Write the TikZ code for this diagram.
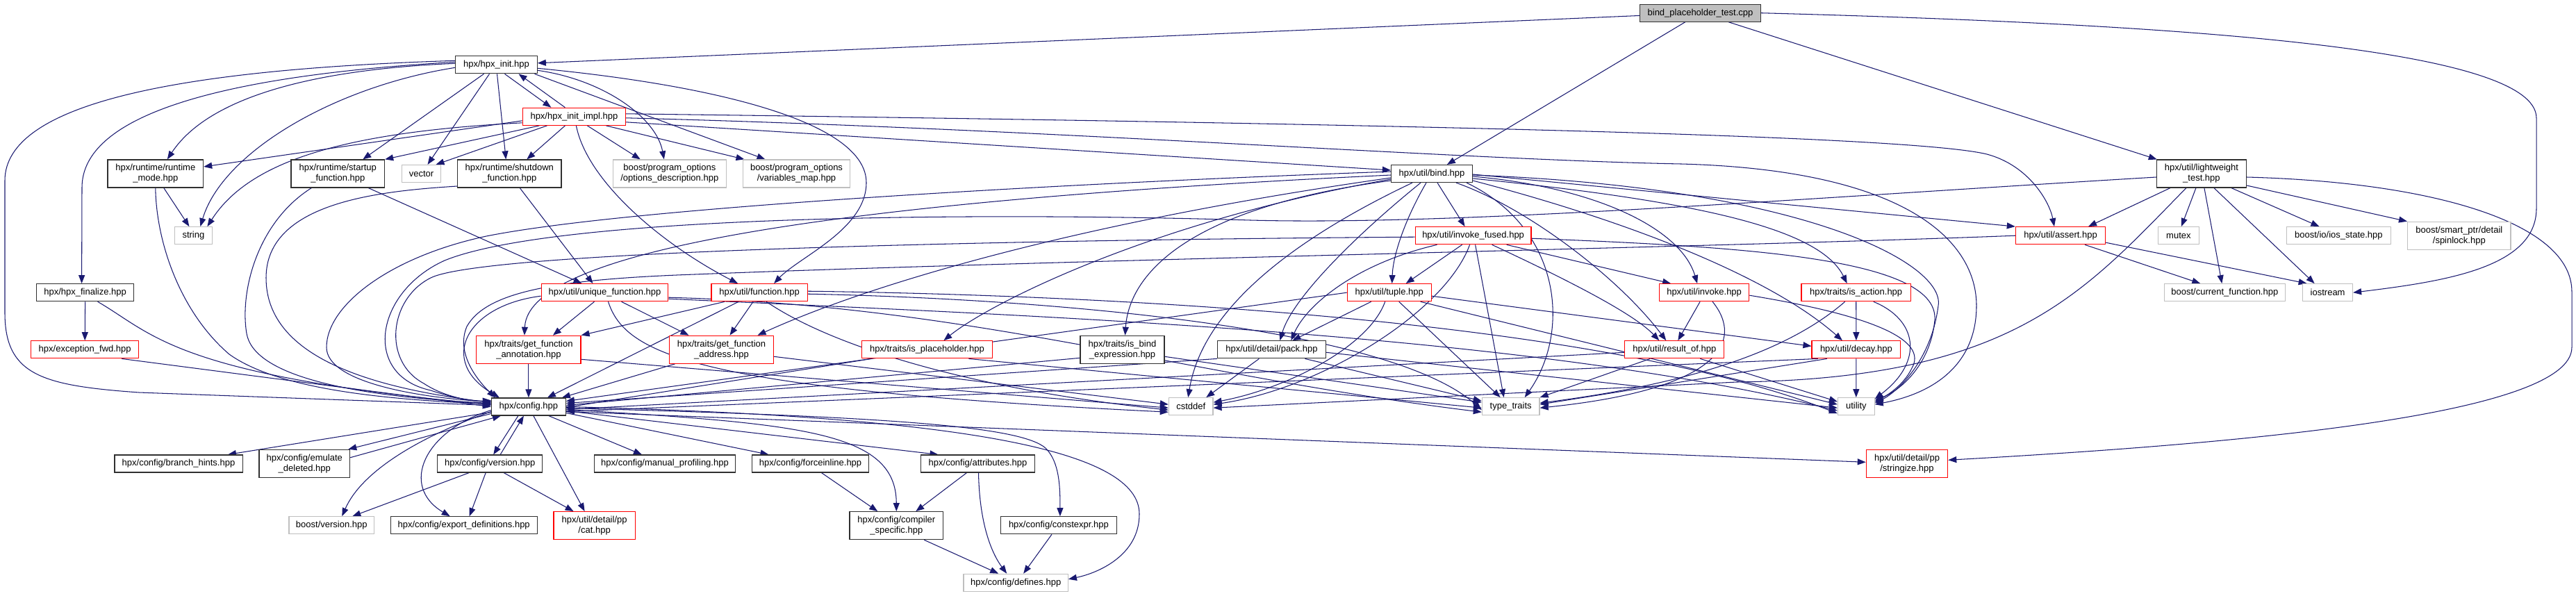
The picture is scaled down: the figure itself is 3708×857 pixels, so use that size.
\documentclass[tikz,border=0pt]{standalone}
\usepackage{fontspec}
\setmainfont{Liberation Sans}
\usetikzlibrary{arrows.meta}
\definecolor{edgeblue}{HTML}{191970}
\definecolor{boxgray}{HTML}{BFBFBF}
\definecolor{boxred}{HTML}{FF0000}
\definecolor{boxblack}{HTML}{303030}
\pgfdeclarelayer{bgl}
\pgfdeclarelayer{edges}
\pgfsetlayers{bgl,edges,main}
\begin{document}
\begin{tikzpicture}[x=1pt,y=-1pt,font=\fontsize{13}{15}\selectfont,
  nb/.style={draw=boxblack,line width=1.2pt,fill=white,inner xsep=2pt,inner ysep=0pt,align=center,minimum height=25pt},
  nr/.style={nb,draw=boxred,line width=1.2pt},
  ng/.style={nb,draw=boxgray,line width=1.2pt},
  nroot/.style={nb,fill=boxgray},
  two/.style={minimum height=40pt},
  dep/.style={draw=edgeblue,line width=1.05pt,-{Triangle[length=12pt,width=9pt]}}]
\useasboundingbox (0,0) rectangle (3708,857);
\begin{pgfonlayer}{bgl}
\fill[white] (0,0) rectangle (3708,857);
\end{pgfonlayer}
% ---------------- nodes
\node[nroot,minimum width=173.7pt] (root) at (2447.5,18.7) {bind\_placeholder\_test.cpp};
\node[nb,minimum width=117.5pt] (init) at (714.5,93.3) {hpx/hpx\_init.hpp};
\node[nr,minimum width=148.3pt] (impl) at (826.4,167.8) {hpx/hpx\_init\_impl.hpp};
\node[nb,two,minimum width=137.6pt] (rm) at (223.8,250) {hpx/runtime/runtime\\\_mode.hpp};
\node[ng,minimum width=54.6pt] (strn) at (278.4,339.2) {string};
\node[nb,two,minimum width=134.6pt] (su) at (486.3,250) {hpx/runtime/startup\\\_function.hpp};
\node[ng,minimum width=56pt] (vec) at (606.5,250) {vector};
\node[nb,two,minimum width=149.5pt] (sd) at (733.3,250) {hpx/runtime/shutdown\\\_function.hpp};
\node[ng,two,minimum width=163pt] (od) at (963.8,250) {boost/program\_options\\/options\_description.hpp};
\node[ng,two,minimum width=154.4pt] (vm) at (1146.5,250) {boost/program\_options\\/variables\_map.hpp};
\node[nb,minimum width=117pt] (bind) at (2061,250) {hpx/util/bind.hpp};
\node[nb,two,minimum width=129.1pt] (lw) at (3168.9,250) {hpx/util/lightweight\\\_test.hpp};
\node[nb,minimum width=140pt] (fin) at (122.6,421.2) {hpx/hpx\_finalize.hpp};
\node[nr,minimum width=182.7pt] (ufn) at (870.5,421.2) {hpx/util/unique\_function.hpp};
\node[nr,minimum width=138.4pt] (fn) at (1093.1,421.2) {hpx/util/function.hpp};
\node[nr,minimum width=166.9pt] (ifu) at (2120.6,339.2) {hpx/util/invoke\_fused.hpp};
\node[nr,minimum width=121pt] (tup) at (1999.7,421.2) {hpx/util/tuple.hpp};
\node[nr,minimum width=129.4pt] (inv) at (2453.1,421.2) {hpx/util/invoke.hpp};
\node[nr,minimum width=157.3pt] (ia) at (2671.7,421.2) {hpx/traits/is\_action.hpp};
\node[nr,minimum width=129.3pt] (as) at (2966,339.2) {hpx/util/assert.hpp};
\node[ng,minimum width=58.7pt] (mtx) at (3135.9,339.2) {mutex};
\node[ng,minimum width=150.4pt] (ios) at (3366.4,339.2) {boost/io/ios\_state.hpp};
\node[ng,two,minimum width=148.5pt] (spl) at (3539.8,339.3) {boost/smart\_ptr/detail\\/spinlock.hpp};
\node[ng,minimum width=174.3pt] (cf) at (3202.3,421.2) {boost/current\_function.hpp};
\node[ng,minimum width=71.8pt] (iost) at (3350.6,421.2) {iostream};
\node[nr,minimum width=155pt] (exc) at (122.2,503.3) {hpx/exception\_fwd.hpp};
\node[nr,two,minimum width=150.2pt] (ann) at (760.9,503.3) {hpx/traits/get\_function\\\_annotation.hpp};
\node[nr,two,minimum width=150.2pt] (adr) at (1038.5,503.3) {hpx/traits/get\_function\\\_address.hpp};
\node[nr,minimum width=188.2pt] (iph) at (1334.4,503.3) {hpx/traits/is\_placeholder.hpp};
\node[nb,two,minimum width=121pt] (ibe) at (1615.5,503.3) {hpx/traits/is\_bind\\\_expression.hpp};
\node[nb,minimum width=155.9pt] (pack) at (1830.4,503.3) {hpx/util/detail/pack.hpp};
\node[nr,minimum width=142.9pt] (ro) at (2410.3,503.3) {hpx/util/result\_of.hpp};
\node[nr,minimum width=127.7pt] (dec) at (2671.9,503.3) {hpx/util/decay.hpp};
\node[nb,minimum width=106.8pt] (cfg) at (760.9,585.5) {hpx/config.hpp};
\node[ng,minimum width=63.6pt] (cst) at (1714.2,585.2) {cstddef};
\node[ng,minimum width=82.7pt] (tt) at (2174.7,585.2) {type\_traits};
\node[ng,minimum width=52.6pt] (ut) at (2671.8,585.2) {utility};
\node[nb,minimum width=184.2pt] (bh) at (257,667.5) {hpx/config/branch\_hints.hpp};
\node[nb,two,minimum width=130.8pt] (ed) at (438.3,667.3) {hpx/config/emulate\\\_deleted.hpp};
\node[nb,minimum width=151pt] (ver) at (705.2,667.5) {hpx/config/version.hpp};
\node[nb,minimum width=202.5pt] (mp) at (957,667.5) {hpx/config/manual\_profiling.hpp};
\node[nb,minimum width=168.2pt] (fi) at (1166.5,667.5) {hpx/config/forceinline.hpp};
\node[nb,minimum width=163.7pt] (attr) at (1407.5,667.5) {hpx/config/attributes.hpp};
\node[nr,two,minimum width=117.4pt] (strz) at (2745,667.3) {hpx/util/detail/pp\\/stringize.hpp};
\node[ng,minimum width=122.6pt] (bv) at (477.3,756.3) {boost/version.hpp};
\node[nb,minimum width=210.9pt] (ex) at (667.7,756.3) {hpx/config/export\_definitions.hpp};
\node[nr,two,minimum width=117.4pt] (cat) at (855.6,756.7) {hpx/util/detail/pp\\/cat.hpp};
\node[nb,two,minimum width=134.8pt] (cs) at (1290.3,756.7) {hpx/config/compiler\\\_specific.hpp};
\node[nb,minimum width=166.9pt] (ce) at (1523.9,756.3) {hpx/config/constexpr.hpp};
\node[ng,minimum width=150.3pt] (def) at (1462.2,838.8) {hpx/config/defines.hpp};
% ---------------- edges
\begin{pgfonlayer}{edges}
% root
\draw[dep] (root) -- (init);
\draw[dep] (root) -- (bind);
\draw[dep] (root) -- (lw);
\draw[dep] (root.east) .. controls (3150,35) and (3651,70) .. (3651,170) -- (3651,300) .. controls (3651,385) and (3520,405) .. (iost.east);
% hpx_init
\draw[dep] ([xshift=12pt]init.south) -- ([xshift=-33pt]impl.north);
\draw[dep] ([xshift=-13pt]impl.north) -- ([xshift=32pt]init.south);
\draw[dep] ([yshift=2pt]init.west) .. controls (450,100) and (300,140) .. ([xshift=17pt]rm.north);
\draw[dep] ([yshift=-4pt]init.west) .. controls (480,125) and (320,220) .. ([xshift=10pt]strn.north);
\draw[dep] ([yshift=4pt]init.west) .. controls (300,110) and (118,170) .. (118,270) -- ([xshift=-5pt]fin.north);
\draw[dep] ([yshift=6pt]init.west) .. controls (250,100) and (7,150) .. (7,260) -- (7,450) .. controls (7,540) and (60,555) .. (200,565) -- ([yshift=2pt]cfg.west);
\draw[dep] ([xshift=-18pt]init.south) -- ([xshift=36pt]su.north);
\draw[dep] ([xshift=-10pt]init.south) -- ([xshift=9pt]vec.north);
\draw[dep] ([xshift=1pt]init.south) -- ([xshift=-5pt]sd.north);
\draw[dep] ([yshift=-8pt]init.east) .. controls (870,115) and (945,170) .. ([xshift=-8pt]od.north);
\draw[dep] ([xshift=55pt]init.south) -- ([xshift=-45pt]vm.north);
\draw[dep] ([yshift=-5pt]init.east) .. controls (1050,125) and (1247,180) .. (1247,263) .. controls (1247,330) and (1150,370) .. ([xshift=21pt]fn.north);
% hpx_init_impl
\draw[dep] ([xshift=-13pt]impl.south) -- ([xshift=25pt]sd.north);
\draw[dep] ([xshift=-39pt]impl.south) -- ([xshift=21pt]vec.north);
\draw[dep] ([yshift=-6pt]impl.west) -- ([yshift=10pt]rm.east);
\draw[dep] ([yshift=-9pt]impl.west) .. controls (500,190) and (360,230) .. ([xshift=20pt]strn.north);
\draw[dep] ([xshift=-50pt]impl.south) -- (su.north east);
\draw[dep] ([xshift=19pt]impl.south) -- ([xshift=-42pt]od.north);
\draw[dep] ([xshift=46pt]impl.south) -- ([xshift=-75pt]vm.north);
\draw[dep] ([xshift=3pt]impl.south) .. controls (845,260) and (950,350) .. ([xshift=-31pt]fn.north);
\draw[dep] ([yshift=-8pt]impl.east) -- ([yshift=5pt]bind.west);
\draw[dep] ([yshift=4pt]impl.east) .. controls (2000,178) and (2750,195) .. (2860,222) .. controls (2920,238) and (2950,290) .. ([xshift=-9pt]as.north);
\draw[dep] ([yshift=-2pt]impl.east) .. controls (1500,185) and (2100,230) .. (2420,236) .. controls (2750,245) and (2845,350) .. (2845,440) .. controls (2845,520) and (2790,565) .. ([yshift=3pt]ut.east);
% bind
\draw[dep] ([yshift=3pt]bind.west) .. controls (1500,265) and (900,300) .. (700,340) .. controls (560,370) and (470,440) .. (470,500) .. controls (470,550) and (600,572) .. ([yshift=7pt]cfg.west);
\draw[dep] ([yshift=-2pt]bind.west) .. controls (1200,290) and (760,360) .. ([xshift=-6pt]ann.north);
\draw[dep] ([yshift=-6pt]bind.west) .. controls (1550,320) and (1250,410) .. ([xshift=52pt]adr.north);
\draw[dep] ([yshift=-8pt]bind.west) .. controls (1650,320) and (1420,440) .. ([xshift=24pt]iph.north);
\draw[dep] ([yshift=-10pt]bind.west) .. controls (1700,300) and (1625,400) .. ([xshift=4pt]ibe.north);
\draw[dep] ([xshift=-28pt]bind.south) .. controls (1850,350) and (1730,450) .. ([xshift=-4pt]cst.north);
\draw[dep] ([xshift=-16pt]bind.south) .. controls (1950,340) and (1860,430) .. ([xshift=12pt]pack.north);
\draw[dep] ([xshift=-8pt]bind.south) .. controls (2020,320) and (2005,370) .. ([xshift=4pt]tup.north);
\draw[dep] ([xshift=8pt]bind.south) -- ([xshift=-12pt]ifu.north);
\draw[dep] ([xshift=35pt]bind.south) .. controls (2200,300) and (2330,400) .. ([xshift=-12pt]ro.north);
\draw[dep] ([yshift=-4pt]bind.east) .. controls (2300,270) and (2420,330) .. ([xshift=-10pt]inv.north);
\draw[dep] ([yshift=-7pt]bind.east) .. controls (2450,290) and (2620,330) .. ([xshift=-13pt]ia.north);
\draw[dep] ([yshift=-10pt]bind.east) .. controls (2350,320) and (2550,400) .. ([xshift=-20pt]dec.north);
\draw[dep] ([yshift=-1pt]bind.east) -- (as.north west);
\draw[dep] ([xshift=50pt]bind.south) .. controls (2250,330) and (2260,480) .. ([xshift=20pt]tt.north);
\draw[dep] ([yshift=-2pt]bind.east) .. controls (2600,270) and (2800,380) .. (2790,440) .. controls (2780,520) and (2730,565) .. ([yshift=5pt]ut.east);
% invoke_fused
\draw[dep] ([xshift=-16pt]ifu.south) -- ([xshift=24pt]tup.north);
\draw[dep] ([xshift=-52pt]ifu.south) .. controls (1950,380) and (1880,440) .. ([xshift=28pt]pack.north);
\draw[dep] ([xshift=-5pt]ifu.south) .. controls (2080,450) and (1900,560) .. ([yshift=3pt]cst.east);
\draw[dep] ([xshift=3pt]ifu.south) -- ([xshift=-10pt]tt.north);
\draw[dep] ([xshift=27pt]ifu.south) .. controls (2250,400) and (2350,450) .. ([xshift=-22pt]ro.north);
\draw[dep] ([xshift=48pt]ifu.south) -- ([xshift=-48pt]inv.north);
\draw[dep] ([yshift=-2pt]ifu.west) .. controls (1500,345) and (700,360) .. (620,400) .. controls (560,430) and (550,520) .. (610,552) .. controls (640,572) and (680,578) .. ([yshift=9pt]cfg.west);
\draw[dep] ([yshift=-4pt]ifu.east) .. controls (2500,355) and (2790,370) .. (2785,460) .. controls (2780,520) and (2740,560) .. ([yshift=9pt]ut.east);
% tuple
\draw[dep] (tup.west) -- ([yshift=8pt]cfg.east);
\draw[dep] ([xshift=-26pt]tup.south) -- ([xshift=30pt]pack.north);
\draw[dep] ([xshift=-6pt]tup.south) .. controls (1970,500) and (1850,560) .. ([yshift=6pt]cst.east);
\draw[dep] ([xshift=14pt]tup.south) -- ([xshift=-15pt]tt.north);
\draw[dep] ([xshift=45pt]tup.south) -- ([yshift=3pt]ut.west);
\draw[dep] ([yshift=-5pt]tup.east) -- ([yshift=5pt]dec.west);
% invoke
\draw[dep] ([xshift=-6pt]inv.south) -- ([xshift=5pt]ro.north);
\draw[dep] ([xshift=12pt]inv.south) .. controls (2510,490) and (2480,560) .. ([yshift=-2pt]tt.east);
\draw[dep] ([yshift=-4pt]inv.east) .. controls (2700,455) and (2775,490) .. (2752,530) .. controls (2740,555) and (2715,570) .. ([yshift=7pt]ut.east);
% result_of
\draw[dep] ([xshift=-35pt]ro.south) -- (tt.north east);
\draw[dep] ([xshift=37pt]ro.south) -- ([yshift=7pt]ut.west);
\draw[dep] ([yshift=-4pt]ro.west) -- ([yshift=-4pt]cfg.east);
% decay
\draw[dep] (dec.south) -- (ut.north);
\draw[dep] ([xshift=-42pt]dec.south) -- ([yshift=3pt]tt.east);
\draw[dep] ([xshift=-55pt]dec.south) -- ([yshift=-7pt]cfg.east);
% is_action
\draw[dep] (ia.south) -- (dec.north);
\draw[dep] ([xshift=-16pt]ia.south) .. controls (2580,500) and (2450,550) .. ([yshift=5pt]tt.east);
\draw[dep] ([xshift=25pt]ia.south) .. controls (2760,460) and (2770,520) .. ([yshift=11pt]ut.east);
% pack
\draw[dep] (pack.south west) -- ([yshift=5pt]cfg.east);
\draw[dep] ([xshift=-18pt]pack.south) -- ([xshift=22pt]cst.north);
\draw[dep] ([xshift=48pt]pack.south) -- ([yshift=8pt]tt.west);
\draw[dep] ([yshift=-4pt]pack.east) -- ([yshift=-2pt]ut.west);
% is_bind_expression
\draw[dep] ([yshift=-12pt]ibe.west) -- ([yshift=2pt]cfg.east);
\draw[dep] ([yshift=-10pt]ibe.east) -- ([yshift=6pt]tt.west);
% is_placeholder
\draw[dep] ([xshift=-80pt]iph.south) -- ([yshift=-1pt]cfg.east);
\draw[dep] ([xshift=60pt]iph.south) -- ([yshift=-2pt]tt.west);
% get_function_address / annotation
\draw[dep] ([xshift=-67pt]adr.south) -- ([xshift=48pt]cfg.north);
\draw[dep] ([yshift=-10pt]adr.east) -- ([yshift=3pt]cst.west);
\draw[dep] (ann.south) -- (cfg.north);
\draw[dep] ([yshift=-14pt]ann.east) -- ([yshift=-2pt]cst.west);
% unique_function
\draw[dep] ([xshift=-15pt]ufn.south) -- ([xshift=35pt]ann.north);
\draw[dep] ([xshift=24pt]ufn.south) -- ([xshift=-47pt]adr.north);
\draw[dep] ([yshift=-5pt]ufn.west) .. controls (670,440) and (630,520) .. ([xshift=-42pt]cfg.north);
\draw[dep] ([xshift=5pt]ufn.south) .. controls (900,510) and (1000,560) .. ([yshift=-8pt]cst.west);
\draw[dep] ([yshift=-7pt]ufn.east) .. controls (1400,440) and (1700,540) .. ([yshift=-8pt]tt.west);
\draw[dep] ([yshift=-9pt]ufn.east) .. controls (1500,455) and (2200,480) .. ([yshift=-6pt]ut.west);
% function
\draw[dep] ([xshift=-30pt]fn.south) -- ([xshift=27pt]cfg.north);
\draw[dep] ([xshift=-50pt]fn.south) -- (ann.north east);
\draw[dep] ([xshift=-9pt]fn.south) -- ([xshift=12pt]adr.north);
\draw[dep] ([xshift=10pt]fn.south) .. controls (1200,500) and (1400,560) .. ([yshift=-5pt]cst.west);
\draw[dep] ([yshift=-2pt]fn.east) .. controls (1500,430) and (2000,470) .. ([yshift=-5pt]tt.west);
\draw[dep] ([yshift=2pt]fn.east) .. controls (1600,425) and (2300,460) .. ([yshift=-10pt]ut.west);
% assert
\draw[dep] (as.west) .. controls (2500,355) and (1500,375) .. (1000,395) .. controls (800,402) and (700,420) .. (672,470) .. controls (655,510) and (690,550) .. ([xshift=-48pt]cfg.north);
\draw[dep] ([xshift=35pt]as.south) -- ([xshift=-35pt]cf.north);
\draw[dep] ([yshift=-10pt]as.east) -- ([xshift=-30pt]iost.north);
% lightweight_test
\draw[dep] ([yshift=-5pt]lw.west) .. controls (2600,285) and (2100,325) .. (1800,317) .. controls (1400,305) and (800,310) .. (640,375) .. controls (540,420) and (520,540) .. (620,562) .. controls (650,572) and (680,578) .. ([yshift=8pt]cfg.west);
\draw[dep] ([xshift=-45pt]lw.south) -- ([xshift=40pt]as.north);
\draw[dep] ([xshift=-22pt]lw.south) .. controls (3000,420) and (2900,545) .. (2500,550) -- ([yshift=-2pt]cst.east);
\draw[dep] ([xshift=-8pt]lw.south) -- ([xshift=4pt]mtx.north);
\draw[dep] ([xshift=4pt]lw.south) -- ([xshift=-4pt]cf.north);
\draw[dep] ([xshift=18pt]lw.south) -- ([xshift=-19pt]iost.north);
\draw[dep] ([xshift=43pt]lw.south) -- ([xshift=-28pt]ios.north);
\draw[dep] ([yshift=-17pt]lw.east) -- (spl.north west);
\draw[dep] ([yshift=-5pt]lw.east) .. controls (3500,262) and (3702,320) .. (3702,420) -- (3702,500) .. controls (3702,600) and (3200,640) .. ([yshift=5pt]strz.east);
% config outgoing
\draw[dep] ([yshift=-8pt]cfg.west) -- ([xshift=71pt]bh.north);
\draw[dep] ([yshift=-10pt]cfg.west) -- ([xshift=-3pt]ed.north east);
\draw[dep] ([yshift=-12pt]ed.north east) -- ([xshift=-40pt]cfg.south);
\draw[dep] ([xshift=-15pt]cfg.south) -- ([xshift=5pt]ver.north);
\draw[dep] ([xshift=15pt]ver.north) -- ([xshift=-7pt]cfg.south);
\draw[dep] ([xshift=7pt]cfg.south) -- ([xshift=-14pt]cat.north);
\draw[dep] ([xshift=29pt]cfg.south) -- ([xshift=-33pt]mp.north);
\draw[dep] ([yshift=-9pt]cfg.east) -- ([xshift=-60pt]fi.north);
\draw[dep] ([yshift=-6pt]cfg.east) -- ([xshift=-57pt]attr.north);
\draw[dep] ([yshift=-4pt]cfg.east) .. controls (1150,610) and (1290,620) .. (cs.north);
\draw[dep] ([yshift=-2pt]cfg.east) .. controls (1300,600) and (1470,615) .. (1505,645) .. controls (1525,665) and (1526,700) .. ([xshift=2pt]ce.north);
\draw[dep] (cfg.east) .. controls (1400,600) and (1640,650) .. (1640,740) .. controls (1640,800) and (1580,825) .. ([yshift=5pt]def.east);
\draw[dep] ([yshift=-7pt]cfg.east) -- ([yshift=2pt]strz.west);
\draw[dep] ([yshift=-5pt]cfg.west) .. controls (610,620) and (575,700) .. ([xshift=-20pt]ex.north);
\draw[dep] ([yshift=-7pt]cfg.west) .. controls (600,630) and (520,680) .. ([xshift=15pt]bv.north);
% version and others
\draw[dep] ([xshift=-6pt]ver.south) -- ([xshift=8pt]ex.north);
\draw[dep] ([xshift=20pt]ver.south) -- ([xshift=-30pt]cat.north);
\draw[dep] ([xshift=-30pt]ver.south) -- ([xshift=30pt]bv.north);
\draw[dep] ([xshift=16pt]fi.south) -- ([xshift=-27pt]cs.north);
\draw[dep] ([xshift=-16pt]attr.south) -- ([xshift=28pt]cs.north);
\draw[dep] ([xshift=1pt]attr.south) .. controls (1410,760) and (1430,800) .. ([xshift=-13pt]def.north);
\draw[dep] ([xshift=40pt]cs.south) -- ([xshift=-25pt]def.north);
\draw[dep] ([xshift=-10pt]ce.south) -- ([xshift=11pt]def.north);
% left side
\draw[dep] (fin.south) -- (exc.north);
\draw[dep] ([xshift=18pt]fin.south) .. controls (220,480) and (250,540) .. ([yshift=3pt]cfg.west);
\draw[dep] ([xshift=53pt]exc.south) -- ([yshift=0pt]cfg.west);
\draw[dep] ([xshift=12pt]rm.south) -- ([xshift=-6pt]strn.north);
\draw[dep] (rm.south) .. controls (225,350) and (260,450) .. (330,510) .. controls (400,560) and (550,575) .. ([yshift=4pt]cfg.west);
\draw[dep] ([xshift=-38pt]su.south) .. controls (370,320) and (345,420) .. (355,480) .. controls (365,540) and (500,570) .. ([yshift=5pt]cfg.west);
\draw[dep] ([xshift=44pt]su.south) -- ([xshift=-33pt]ufn.north);
\draw[dep] ([xshift=15pt]sd.south) -- ([xshift=-17pt]ufn.north);
\draw[dep] ([yshift=-18pt]sd.west) .. controls (550,275) and (383,290) .. (383,400) .. controls (383,520) and (550,560) .. ([yshift=6pt]cfg.west);
\end{pgfonlayer}
\end{tikzpicture}
\end{document}
